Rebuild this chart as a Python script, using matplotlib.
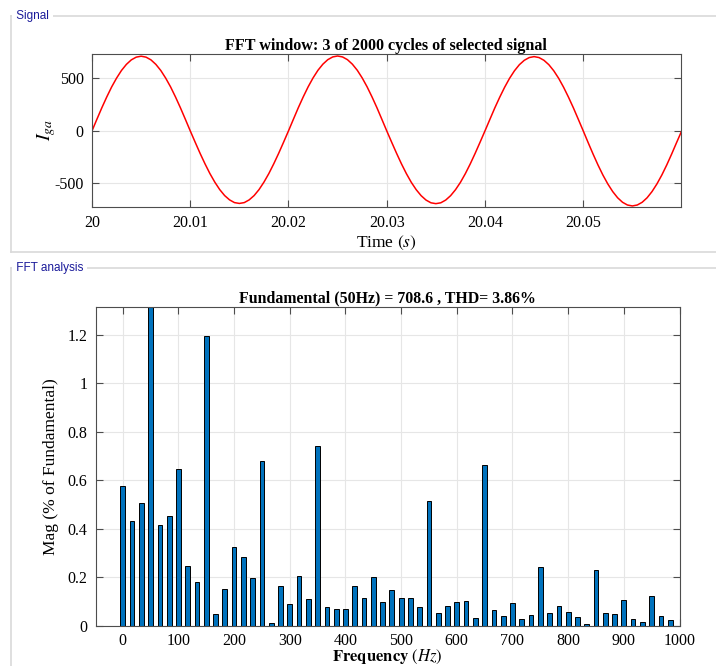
import numpy as np
import matplotlib
matplotlib.use('Agg')
import matplotlib.pyplot as plt
from matplotlib.lines import Line2D

plt.rcParams['font.family'] = ['Liberation Serif', 'DejaVu Serif']
plt.rcParams['mathtext.fontset'] = 'stix'

# selected signal, sampled every 0.5 ms from t = 20 s
t_start = 20.0
t_step = 0.0005
i_ga = [
    0, 111, 220, 323, 419, 503, 576, 634, 677, 703, 712, 703, 677, 634, 576, 503, 419, 323, 220, 111,
    0, -108, -214, -314, -407, -489, -560, -617, -658, -684, -692, -684, -658, -617, -560, -489, -407, -314, -214, -108,
    0, 111, 221, 324, 420, 505, 578, 636, 679, 705, 714, 705, 679, 636, 578, 505, 420, 324, 221, 111,
    0, -108, -214, -315, -408, -491, -561, -618, -660, -686, -694, -686, -660, -618, -561, -491, -408, -315, -214, -108,
    0, 110, 219, 321, 416, 501, 573, 631, 673, 699, 708, 699, 673, 631, 573, 501, 416, 321, 219, 110,
    0, -112, -221, -325, -421, -506, -579, -638, -681, -707, -716, -707, -681, -638, -579, -506, -421, -325, -221, -112,
    -5,
]

# FFT of 3 cycles -> bins every 50/3 Hz, magnitude in % of fundamental
fund_freq = 50
n_cycles = 3
fund_mag = 708.6
thd = 3.86
mag = [
    0.579, 0.433, 0.507, 100.0, 0.415, 0.452, 0.648, 0.247, 0.182, 1.196,
    0.048, 0.152, 0.327, 0.286, 0.197, 0.679, 0.011, 0.163, 0.090, 0.207,
    0.111, 0.742, 0.077, 0.070, 0.070, 0.163, 0.115, 0.201, 0.097, 0.147,
    0.114, 0.116, 0.077, 0.515, 0.052, 0.082, 0.097, 0.104, 0.033, 0.662,
    0.068, 0.041, 0.095, 0.030, 0.047, 0.244, 0.052, 0.081, 0.059, 0.036,
    0.008, 0.232, 0.052, 0.048, 0.107, 0.027, 0.016, 0.125, 0.041, 0.025,
]
freqs = np.arange(len(mag)) * fund_freq / n_cycles
t = t_start + np.arange(len(i_ga)) * t_step

fig = plt.figure(figsize=(7.16, 6.66), dpi=100)
W, H = 716, 666


def px(x, y):
    return x / W, 1 - y / H


# panel frames
frame_col = '#d9d9d9'
for xs, ys in [((11, 11), (16, 252)), ((11, 716), (16, 16)), ((11, 716), (252, 252)),
               ((11, 11), (268, 666)), ((11, 716), (268, 268))]:
    p0 = px(xs[0], ys[0])
    p1 = px(xs[1], ys[1])
    fig.add_artist(Line2D([p0[0], p1[0]], [p0[1], p1[1]], color=frame_col, lw=1.2,
                          transform=fig.transFigure))
for label, y in [('Signal', 16), ('FFT analysis', 268)]:
    x0, y0 = px(13, y)
    fig.text(x0, y0, ' ' + label + ' ', family='Liberation Sans', fontsize=8.5,
             color='#1a1a9a', va='center', ha='left',
             bbox=dict(facecolor='white', edgecolor='none', pad=0.5))


def style_axes(ax):
    ax.grid(True, color='#e6e6e6', lw=0.8)
    ax.set_axisbelow(True)
    for s in ax.spines.values():
        s.set_color('#4d4d4d')
        s.set_linewidth(0.8)
    ax.tick_params(direction='in', length=5, width=0.8, color='#4d4d4d',
                   top=True, right=True, labelsize=11.5, pad=6)


# signal
ax1 = fig.add_axes([92 / W, 1 - 207 / H, (680.5 - 92) / W, (207 - 54) / H])
ax1.plot(t, i_ga, color='red', lw=1.1)
ax1.set_xlim(20, 20.0599)
ax1.set_ylim(-726, 733)
ax1.set_xticks([20, 20.01, 20.02, 20.03, 20.04, 20.05])
ax1.set_xticklabels(['20', '20.01', '20.02', '20.03', '20.04', '20.05'])
ax1.set_yticks([-500, 0, 500])
ax1.set_yticklabels(['-500', '0', '500'])
style_axes(ax1)
ax1.set_title('FFT window: %d of 2000 cycles of selected signal' % n_cycles,
              fontsize=11.6, fontweight='bold', pad=3)
ax1.set_xlabel('Time $(s)$', fontsize=12.5, labelpad=2)
ax1.set_ylabel('$I_{ga}$', fontsize=14, labelpad=-3)

# spectrum
ax2 = fig.add_axes([95.5 / W, 1 - 626 / H, (679.5 - 95.5) / W, (626 - 306.5) / H])
ax2.bar(freqs, mag, width=8.5, color='#0072BD', edgecolor='black', linewidth=0.7)
ax2.set_xlim(-49, 1000)
ax2.set_ylim(0, 1.317)
ax2.set_xticks(np.arange(0, 1001, 100))
ax2.set_yticks([0, 0.2, 0.4, 0.6, 0.8, 1.0, 1.2])
ax2.set_yticklabels(['0', '0.2', '0.4', '0.6', '0.8', '1', '1.2'])
style_axes(ax2)
ax2.tick_params(axis='x', pad=5)
ax2.set_title('Fundamental (%dHz) = %.1f , THD= %.2f%%' % (fund_freq, fund_mag, thd),
              fontsize=11.4, fontweight='bold', pad=3)
ax2.set_xlabel(r'$\mathbf{Frequency}\ (Hz)$', fontsize=12, labelpad=-1)
ax2.set_ylabel('Mag (% of Fundamental)', fontsize=12.5, labelpad=6)

fig.savefig('out.png', dpi=100)
